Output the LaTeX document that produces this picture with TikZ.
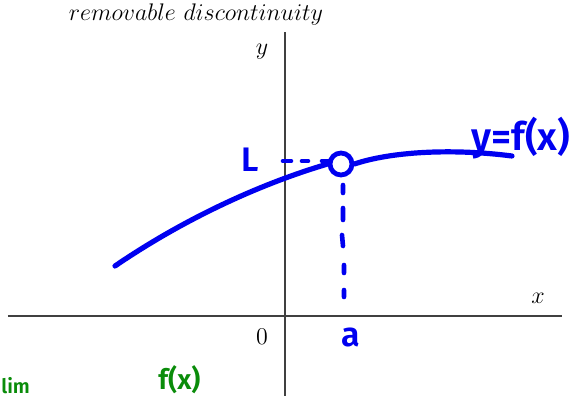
\documentclass[tikz,border=0pt]{standalone}
\usepackage{fontspec}
\newfontfamily\hand{Fira Sans}[BoldFont={Fira Sans SemiBold}]
\definecolor{penblue}{RGB}{0,0,240}
\definecolor{pengreen}{RGB}{10,140,10}
\begin{document}
\begin{tikzpicture}[x=0.5pt,y=-0.5pt,
  axis/.style={draw=black!75, line width=0.6pt},
  pen/.style={draw=penblue, line width=2.6pt, line cap=round, line join=round},
  dashpen/.style={draw=penblue, line width=2.3pt, line cap=round},
  handlbl/.style={text=penblue, font=\hand\bfseries\fontsize{17}{19}\selectfont, inner sep=0pt},
  greenlbl/.style={text=pengreen, font=\hand\bfseries\fontsize{14}{16}\selectfont, inner sep=0pt},
  mlbl/.style={font=\fontsize{13}{15}\selectfont, inner sep=0pt}]
\useasboundingbox (0,0) rectangle (580,396);
\clip (0,0) rectangle (580,396);
% title
\node[mlbl, font=\fontsize{11.9}{14}\selectfont] (title) at (196,14) {$removable\ discontinuity$};
% axes
\coordinate (xl) at (8,316);
\coordinate (xr) at (562,316);
\coordinate (yt) at (285,32);
\coordinate (yb) at (285,400);
\draw[axis] (xl) -- (xr);
\draw[axis] (yt) -- (yb);
\node[mlbl] (ylab) at (262,52) {$y$};
\node[mlbl] (xlab) at (538,298) {$x$};
\node[mlbl] (zero) at (262,337) {$0$};
% curve with hole
\node[circle, draw=penblue, line width=2.4pt, minimum size=11pt, inner sep=0pt] (hole) at (341,164) {};
\coordinate (cs) at (115,266);
\coordinate (ce) at (512,156);
\draw[pen] (cs) .. controls (175,225) and (250,187) .. (hole.west);
\draw[pen] (hole.east) .. controls (390,152) and (450,148) .. (ce);
% dashed guide lines
\draw[dashpen] (283,161) -- (291,161) (302,161) -- (308,161) (322,161) -- (329,161);
\draw[dashpen] (343,185) -- (343,193) (343,208) -- (343,220) (342,235) -- (343,246) (344,265) -- (344,273) (344,290) -- (344,297);
% labels
\node[handlbl] (L) at (250,160) {L};
\node[handlbl] (a) at (351,337) {a};
\node[handlbl, anchor=west, font=\hand\bfseries\fontsize{19.5}{21}\selectfont] (yfx) at (471,138) {y=f(x)};
\node[greenlbl, anchor=south west] (fx) at (158,394) {f(x)};
\node[greenlbl, anchor=south west, font=\hand\bfseries\fontsize{10}{12}\selectfont] (lim) at (1,394) {lim};
\end{tikzpicture}
\end{document}
